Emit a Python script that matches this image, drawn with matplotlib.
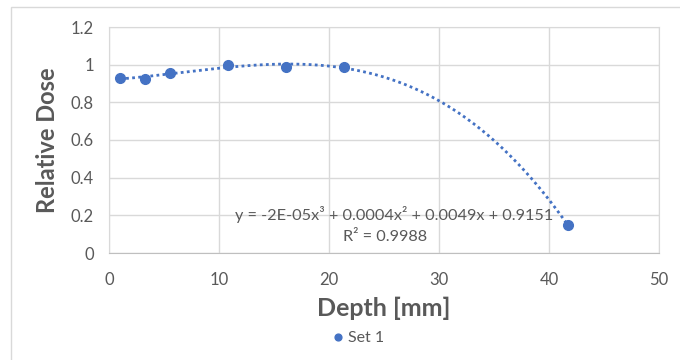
import numpy as np
import matplotlib
matplotlib.use("Agg")
import matplotlib.pyplot as plt
from matplotlib.patches import Rectangle

# Measured depth-dose points
depth_mm = [1.0, 3.3, 5.55, 10.8, 16.1, 21.4, 41.7]
relative_dose = [0.929, 0.924, 0.956, 0.998, 0.988, 0.988, 0.149]

x_ticks = [0, 10, 20, 30, 40, 50]
y_ticks = [0, 0.2, 0.4, 0.6, 0.8, 1.0, 1.2]
y_tick_labels = ["0", "0.2", "0.4", "0.6", "0.8", "1", "1.2"]

series_name = "Set 1"
equation_text = "y = -2E-05x³ + 0.0004x² + 0.0049x + 0.9151"
r2_text = "R² = 0.9988"

blue = "#4472C4"
grid_col = "#d9d9d9"
text_col = "#595959"

plt.rcParams["font.family"] = ["Lato", "DejaVu Sans"]

fig = plt.figure(figsize=(6.8, 3.6), dpi=100)
fig.patch.set_facecolor("white")

# chart frame
fig.add_artist(Rectangle((11 / 680, -0.1), 1.2, (360 - 7) / 360 + 0.1,
                         transform=fig.transFigure, fill=False,
                         edgecolor="#d9d9d9", linewidth=1.0))

ax = fig.add_axes([109 / 680, 1 - 253 / 360, 550 / 680, 226 / 360])
ax.set_xlim(0, 50)
ax.set_ylim(0, 1.2)
ax.set_xticks(x_ticks)
ax.set_yticks(y_ticks)
ax.set_yticklabels(y_tick_labels)
ax.grid(True, color=grid_col, linewidth=1.0)
ax.set_axisbelow(True)
for side in ["top", "right", "left"]:
    ax.spines[side].set_color(grid_col)
ax.spines["bottom"].set_color("#bfbfbf")
ax.tick_params(length=0, labelsize=12, labelcolor=text_col)
ax.tick_params(axis="x", pad=14)
ax.tick_params(axis="y", pad=11)

# cubic trendline fitted to the measurements
coef = np.polyfit(depth_mm, relative_dose, 3)
xs = np.linspace(min(depth_mm), max(depth_mm), 300)
ax.plot(xs, np.polyval(coef, xs), color=blue, linewidth=2,
        linestyle=(0, (1, 1.2)), zorder=2)

ax.plot(depth_mm, relative_dose, "o", color=blue, markersize=7,
        label=series_name, zorder=3)

ax.text(0.518, 0.169, equation_text, transform=ax.transAxes, ha="center",
        va="center", fontsize=11.7, color=text_col)
ax.text(0.502, 0.072, r2_text, transform=ax.transAxes, ha="center",
        va="center", fontsize=11.7, color=text_col)

ax.set_xlabel("Depth [mm]", fontsize=18, fontweight="bold", color=text_col,
              labelpad=6)
ax.set_ylabel("Relative Dose", fontsize=17, fontweight="bold",
              color=text_col, labelpad=8)

leg = fig.legend(loc="center", bbox_to_anchor=(356 / 680, 1 - 338 / 360),
                 frameon=False, fontsize=11.5, handletextpad=0.05,
                 handlelength=1.2, markerscale=0.7, labelcolor=text_col)

fig.savefig("out.png", dpi=100)
